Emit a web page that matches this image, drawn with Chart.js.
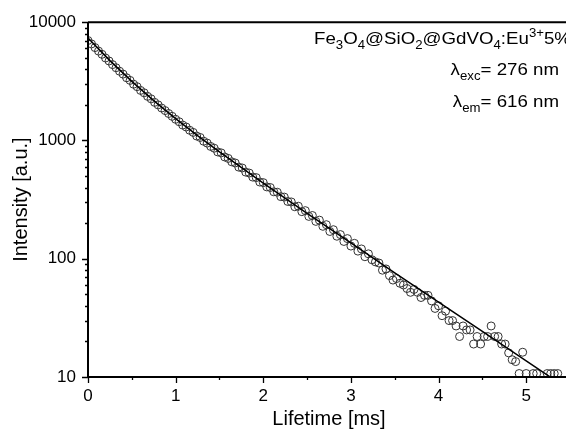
<!doctype html>
<html lang="en">
<head>
<meta charset="utf-8">
<title>Luminescence decay</title>
<style>
  * { margin: 0; padding: 0; }
  body { width: 566px; height: 431px; overflow: hidden; background: #fff; }
  .chartBox { width: 600px; height: 431px; }
</style>
</head>
<body>
<div class="chartBox"><canvas id="myChart" width="600" height="431"></canvas></div>
<script src="https://cdn.jsdelivr.net/npm/chart.js"></script>
<script>
// measured decay (ms, a.u.)
const times = [0, 0.04, 0.08, 0.12, 0.16, 0.2, 0.24, 0.28, 0.32, 0.36,
  0.4, 0.44, 0.48, 0.52, 0.56, 0.6, 0.64, 0.68, 0.72, 0.76,
  0.8, 0.84, 0.88, 0.92, 0.96, 1, 1.04, 1.08, 1.12, 1.16,
  1.2, 1.24, 1.28, 1.32, 1.36, 1.4, 1.44, 1.48, 1.52, 1.56,
  1.6, 1.64, 1.68, 1.72, 1.76, 1.8, 1.84, 1.88, 1.92, 1.96,
  2, 2.04, 2.08, 2.12, 2.16, 2.2, 2.24, 2.28, 2.32, 2.36,
  2.4, 2.44, 2.48, 2.52, 2.56, 2.6, 2.64, 2.68, 2.72, 2.76,
  2.8, 2.84, 2.88, 2.92, 2.96, 3, 3.04, 3.08, 3.12, 3.16,
  3.2, 3.24, 3.28, 3.32, 3.36, 3.4, 3.44, 3.48, 3.52, 3.56,
  3.6, 3.64, 3.68, 3.72, 3.76, 3.8, 3.84, 3.88, 3.92, 3.96,
  4, 4.04, 4.08, 4.12, 4.16, 4.2, 4.24, 4.28, 4.32, 4.36,
  4.4, 4.44, 4.48, 4.52, 4.56, 4.6, 4.64, 4.68, 4.72, 4.76,
  4.8, 4.84, 4.88, 4.92, 4.96, 5, 5.04, 5.08, 5.12, 5.16,
  5.2, 5.24, 5.28, 5.32, 5.36];
const intensity = [7000, 6550, 6100, 5700, 5350, 4980, 4700, 4380, 4120, 3850,
  3640, 3390, 3220, 2990, 2850, 2650, 2530, 2360, 2250, 2100,
  2000, 1880, 1790, 1690, 1600, 1510, 1440, 1350, 1300, 1220,
  1170, 1090, 1060, 985, 950, 890, 860, 800, 785, 725,
  705, 660, 645, 595, 585, 540, 530, 490, 485, 445,
  440, 405, 400, 368, 365, 335, 332, 305, 302, 275,
  278, 250, 255, 228, 232, 207, 212, 188, 194, 170,
  176, 155, 160, 140, 148, 128, 135, 116, 121, 104,
  110, 98, 94, 92, 80, 82, 72, 66, 68, 62,
  60, 56, 52, 55, 52, 47, 49, 49, 44, 38,
  40, 33, 36, 30, 30, 27, 22, 27, 25, 25,
  19, 22, 19, 22, 22, 27, 22, 22, 19, 19,
  16, 14, 13.5, 10.7, 16.2, 10.7, 8, 10.7, 10.7, 9,
  8, 10.7, 10.7, 10.7, 10.7];

// fitted curve
const fitTimes = [0, 0.25, 0.5, 0.75, 1, 1.25, 1.5, 2, 2.5, 3, 3.5, 4, 4.5, 5, 5.3];
const fitValues = [7350, 4733, 3159, 2173, 1532, 1100, 802, 436, 242, 136, 76, 43, 24.3, 13.7, 9.7];

const yDecades = [10, 100, 1000, 10000];
const xMajor = [0, 1, 2, 3, 4, 5];

const FONT = 'Liberation Sans, Arial, sans-serif';

const points = times.map((t, i) => ({x: t, y: intensity[i]}));
const fit = fitTimes.map((t, i) => ({x: t, y: fitValues[i]}));

// axis frame, tick marks and the sample label
const framePlugin = {
  id: 'frame',
  afterDraw(chart) {
    const {ctx, chartArea: a, scales: {x, y}} = chart;
    ctx.save();
    ctx.strokeStyle = '#000';
    ctx.lineWidth = 2;
    ctx.beginPath();
    ctx.moveTo(a.left, a.top); ctx.lineTo(a.right, a.top);
    ctx.lineTo(a.right, a.bottom);
    ctx.moveTo(a.left, a.top); ctx.lineTo(a.left, a.bottom); ctx.lineTo(a.right, a.bottom);
    ctx.stroke();

    ctx.lineWidth = 1.3;
    ctx.beginPath();
    for (let v = 0; v <= 5.5; v += 0.5) {
      const px = Math.round(x.getPixelForValue(v)) + 0.5;
      const len = Number.isInteger(v) ? 6 : 3;
      ctx.moveTo(px, a.bottom); ctx.lineTo(px, a.bottom + len);
    }
    yDecades.forEach((d, i) => {
      const py = Math.round(y.getPixelForValue(d)) + 0.5;
      ctx.moveTo(a.left, py); ctx.lineTo(a.left - 6, py);
      if (i < yDecades.length - 1) {
        for (let m = 2; m <= 9; m++) {
          const q = Math.round(y.getPixelForValue(m * d)) + 0.5;
          ctx.moveTo(a.left, q); ctx.lineTo(a.left - 3, q);
        }
      }
    });
    ctx.stroke();

    ctx.fillStyle = '#000';
    ctx.textBaseline = 'alphabetic';
    const line = (parts, right, base) => {
      const widths = parts.map(p => {
        ctx.font = (p.s ? 12 : 17) + 'px ' + FONT;
        return ctx.measureText(p.t).width;
      });
      let cx = -widths.reduce((s, w) => s + w, 0);
      ctx.save();
      ctx.translate(right, base);
      ctx.scale(1.1, 1);
      parts.forEach((p, i) => {
        ctx.font = (p.s ? 12 : 17) + 'px ' + FONT;
        const dy = p.s === 'sub' ? 4.5 : p.s === 'sup' ? -7 : 0;
        ctx.fillText(p.t, cx, dy);
        cx += widths[i];
      });
      ctx.restore();
    };
    line([{t: 'Fe'}, {t: '3', s: 'sub'}, {t: 'O'}, {t: '4', s: 'sub'}, {t: '@SiO'}, {t: '2', s: 'sub'},
      {t: '@GdVO'}, {t: '4', s: 'sub'}, {t: ':Eu'}, {t: '3+', s: 'sup'}, {t: '5%'}], 571, 44);
    line([{t: 'λ'}, {t: 'exc', s: 'sub'}, {t: '= 276 nm'}], 559, 75);
    line([{t: 'λ'}, {t: 'em', s: 'sub'}, {t: '= 616 nm'}], 559, 107);
    ctx.restore();
  }
};

const config = {
  type: 'scatter',
  data: {
    datasets: [{
      label: 'fit',
      data: fit,
      showLine: true,
      borderColor: '#000',
      borderWidth: 1.5,
      pointRadius: 0,
      fill: false
    }, {
      label: 'data',
      data: points,
      pointStyle: 'circle',
      pointRadius: 4,
      borderWidth: 1,
      borderColor: '#333',
      backgroundColor: 'rgba(0,0,0,0)'
    }]
  },
  options: {
    responsive: false,
    animation: false,
    layout: {padding: {top: 20, right: 30, left: 0, bottom: 0}},
    plugins: {legend: {display: false}, tooltip: {enabled: false}},
    scales: {
      x: {
        type: 'linear',
        min: 0,
        max: 5.5,
        grid: {display: false, drawTicks: false},
        border: {display: false},
        afterBuildTicks: s => { s.ticks = xMajor.map(v => ({value: v})); },
        afterFit: s => { s.height = 54; },
        ticks: {padding: 9, color: '#000', font: {family: FONT, size: 17}},
        title: {display: true, text: 'Lifetime [ms]', color: '#000', padding: {top: 0, bottom: 0},
          font: {family: FONT, size: 20}}
      },
      y: {
        type: 'logarithmic',
        min: 10,
        max: 10000,
        grid: {display: false, drawTicks: false},
        border: {display: false},
        afterBuildTicks: s => { s.ticks = yDecades.map(v => ({value: v})); },
        afterFit: s => { s.width = 88; },
        ticks: {padding: 12, color: '#000', font: {family: FONT, size: 17}, callback: v => String(v)},
        title: {display: true, text: 'Intensity [a.u.]', color: '#000', padding: {top: 9, bottom: 0},
          font: {family: FONT, size: 20}}
      }
    }
  },
  plugins: [framePlugin]
};

const myChart = new Chart(document.getElementById('myChart'), config);
</script>
</body>
</html>
